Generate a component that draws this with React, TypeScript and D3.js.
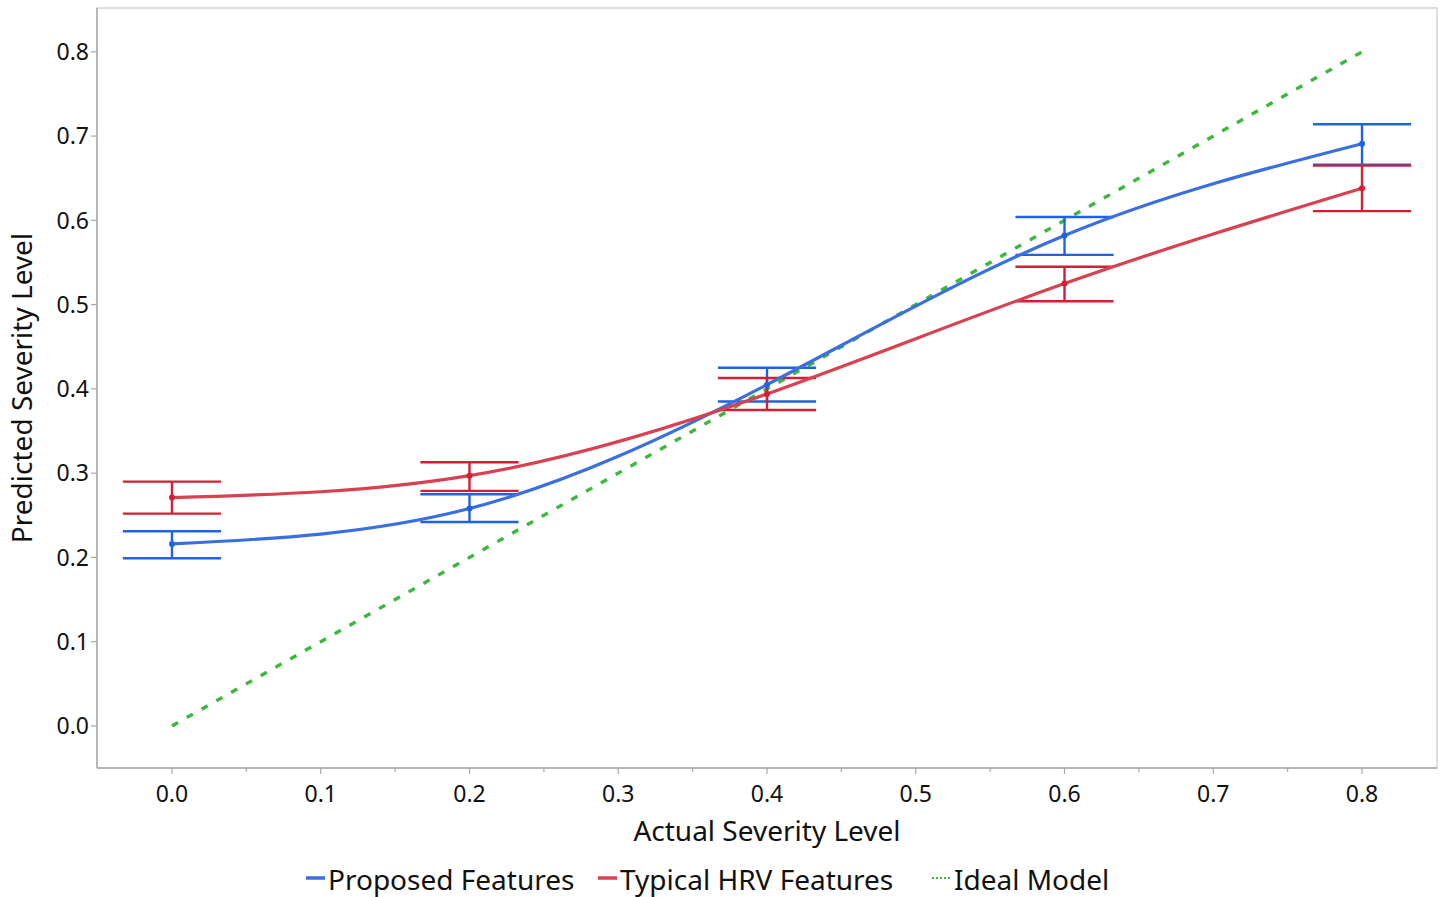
import React from "react";
import * as d3 from "d3";

// Actual severity levels on the x axis
const levels = [0.0, 0.2, 0.4, 0.6, 0.8];

// Proposed features: mean prediction and error bar bounds
const proposedMean = [0.216, 0.258, 0.405, 0.582, 0.691];
const proposedLow = [0.199, 0.242, 0.385, 0.559, 0.666];
const proposedHigh = [0.231, 0.275, 0.425, 0.604, 0.714];

// Typical HRV features: mean prediction and error bar bounds
const typicalMean = [0.271, 0.297, 0.394, 0.525, 0.638];
const typicalLow = [0.252, 0.279, 0.375, 0.504, 0.611];
const typicalHigh = [0.290, 0.313, 0.413, 0.545, 0.665];

// Ideal model endpoints
const idealX = [0.0, 0.8];

const xTicks = [0, 0.1, 0.2, 0.3, 0.4, 0.5, 0.6, 0.7, 0.8];
const xMinorTicks = [0.05, 0.15, 0.25, 0.35, 0.45, 0.55, 0.65, 0.75];
const yTicks = [0, 0.1, 0.2, 0.3, 0.4, 0.5, 0.6, 0.7, 0.8];

const W = 1443;
const H = 897;
const left = 97, right = 1437, top = 8, bottom = 768;

const BLUE = "#3a6fe0";
const BLUE_BAR = "#1f62e6";
const RED = "#d8414f";
const RED_BAR = "#d21f33";
const GREEN = "#3cb83c";
const FONT = "'Noto Sans', 'Open Sans', sans-serif";

export default function App() {
  const x = d3.scaleLinear().domain([-0.0504, 0.8504]).range([left, right]);
  const y = d3.scaleLinear().domain([-0.0499, 0.852]).range([bottom, top]);
  const capHalf = x(0.033) - x(0);

  const line = d3
    .line<[number, number]>()
    .x((d) => x(d[0]))
    .y((d) => y(d[1]))
    .curve(d3.curveNatural);

  const series = [
    { mean: proposedMean, low: proposedLow, high: proposedHigh, color: BLUE, bar: BLUE_BAR },
    { mean: typicalMean, low: typicalLow, high: typicalHigh, color: RED, bar: RED_BAR },
  ];

  return (
    <svg
      width={W}
      height={H}
      style={{ position: "fixed", left: 0, top: 0, background: "#fff" }}
      fontFamily={FONT}
    >
      {/* frame */}
      <rect x={left} y={top} width={right - left} height={bottom - top} fill="none" stroke="#c8c8c8" strokeWidth={1.2} />
      <line x1={left} x2={left} y1={top} y2={bottom} stroke="#a8a8a8" strokeWidth={1.4} />
      <line x1={left} x2={right} y1={bottom} y2={bottom} stroke="#a8a8a8" strokeWidth={1.4} />

      {/* y axis */}
      {yTicks.map((t) => (
        <g key={"y" + t}>
          <line x1={left - 6} x2={left} y1={y(t)} y2={y(t)} stroke="#a8a8a8" strokeWidth={1.2} />
          <text x={left - 8} y={y(t)} dy="0.36em" textAnchor="end" fontSize={23} fill="#111">
            {t.toFixed(1)}
          </text>
        </g>
      ))}

      {/* x axis */}
      {xTicks.map((t) => (
        <g key={"x" + t}>
          <line x1={x(t)} x2={x(t)} y1={bottom} y2={bottom + 6} stroke="#a8a8a8" strokeWidth={1.2} />
          <text x={x(t)} y={bottom + 34} textAnchor="middle" fontSize={23} fill="#111">
            {t.toFixed(1)}
          </text>
        </g>
      ))}
      {xMinorTicks.map((t) => (
        <line key={"xm" + t} x1={x(t)} x2={x(t)} y1={bottom} y2={bottom + 4} stroke="#a8a8a8" strokeWidth={1.2} />
      ))}

      {/* axis titles */}
      <text x={(left + right) / 2} y={841} textAnchor="middle" fontSize={28} fill="#111">
        Actual Severity Level
      </text>
      <text
        transform={`translate(32, ${(top + bottom) / 2}) rotate(-90)`}
        textAnchor="middle"
        fontSize={28}
        fill="#111"
      >
        Predicted Severity Level
      </text>

      {/* ideal model */}
      <line
        x1={x(idealX[0])}
        y1={y(idealX[0])}
        x2={x(idealX[1])}
        y2={y(idealX[1])}
        stroke={GREEN}
        strokeWidth={3.4}
        strokeDasharray="7 10"
      />

      {/* error bars */}
      {series.map((s, si) =>
        levels.map((lv, i) => (
          <g key={`e${si}-${i}`} stroke={s.bar} strokeWidth={2.4}>
            <line x1={x(lv)} x2={x(lv)} y1={y(s.low[i])} y2={y(s.high[i])} />
            <line x1={x(lv) - capHalf} x2={x(lv) + capHalf} y1={y(s.low[i])} y2={y(s.low[i])} />
            <line x1={x(lv) - capHalf} x2={x(lv) + capHalf} y1={y(s.high[i])} y2={y(s.high[i])} />
          </g>
        ))
      )}

      {/* fitted curves and means */}
      {series.map((s, si) => (
        <g key={"c" + si}>
          <path
            d={line(levels.map((lv, i) => [lv, s.mean[i]] as [number, number])) || ""}
            fill="none"
            stroke={s.color}
            strokeWidth={3.2}
          />
          {levels.map((lv, i) => (
            <circle key={i} cx={x(lv)} cy={y(s.mean[i])} r={3} fill={s.bar} />
          ))}
        </g>
      ))}

      {/* legend */}
      <g fontSize={28} fill="#111">
        <line x1={306} x2={325} y1={878} y2={878} stroke={BLUE} strokeWidth={3.5} />
        <text x={328} y={890}>Proposed Features</text>
        <line x1={598} x2={617} y1={878} y2={878} stroke={RED} strokeWidth={3.5} />
        <text x={620} y={890}>Typical HRV Features</text>
        <line x1={932} x2={951} y1={878} y2={878} stroke={GREEN} strokeWidth={2} strokeDasharray="2 2" />
        <text x={954} y={890}>Ideal Model</text>
      </g>
    </svg>
  );
}
